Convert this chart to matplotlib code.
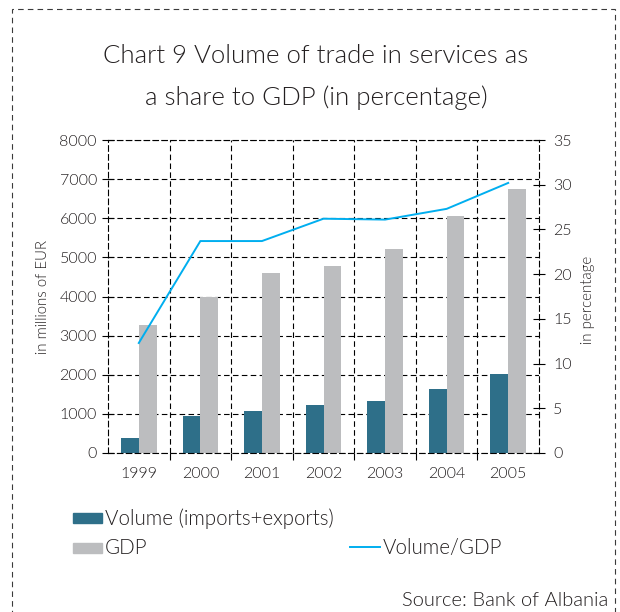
import matplotlib
matplotlib.use("Agg")
import matplotlib.pyplot as plt
from matplotlib.patches import Rectangle
from matplotlib.lines import Line2D
import numpy as np

# Trade in services vs GDP, millions of EUR, and their ratio in percent
years = ["1999", "2000", "2001", "2002", "2003", "2004", "2005"]
volume = [390, 950, 1080, 1230, 1330, 1640, 2020]
gdp = [3270, 4000, 4600, 4790, 5220, 6060, 6750]
share = [12.3, 23.7, 23.7, 26.2, 26.1, 27.3, 30.2]

left_ticks = list(range(0, 8001, 1000))
right_ticks = list(range(0, 36, 5))

series_names = ["Volume (imports+exports)", "GDP", "Volume/GDP"]

plt.rcParams['font.family'] = ['Lato', 'DejaVu Sans']
plt.rcParams['font.weight'] = 300
plt.rcParams['lines.scale_dashes'] = False

TEXT = '#231f20'
DARK = '#2e6f89'
GRAY = '#bcbdbf'
CYAN = '#00aeef'
DASH = (0, (4, 2.4))
W, H = 620, 612

fig = plt.figure(figsize=(W / 100, H / 100), dpi=100)
ax = fig.add_axes([108 / W, 1 - 453 / H, 431 / W, 313 / H])
ax.set_axisbelow(True)

x = np.arange(len(years))
bw = 0.29
ax.bar(x - bw / 2, volume, bw, color=DARK, linewidth=0)
ax.bar(x + bw / 2, gdp, bw, color=GRAY, linewidth=0)

ax.set_xlim(-0.5, len(years) - 0.5)
ax.set_ylim(0, 8000)
ax.set_yticks(left_ticks)
ax.set_xticks(x)
ax.set_xticklabels(years)
ax.set_xticks(x[:-1] + 0.5, minor=True)

ax.grid(axis='y', which='major', color='black', linestyle=DASH, linewidth=0.8)
ax.grid(axis='x', which='minor', color='black', linestyle=DASH, linewidth=0.8)
ax.grid(axis='x', which='major', visible=False)

ax.tick_params(axis='x', which='major', length=0, pad=10, labelsize=11.5, labelcolor=TEXT)
ax.tick_params(axis='x', which='minor', length=5, direction='out', width=0.8)
ax.tick_params(axis='y', direction='inout', length=8, width=0.8, pad=4,
               labelsize=11.5, labelcolor=TEXT)
for s in ax.spines.values():
    s.set_linestyle(DASH)
    s.set_linewidth(0.8)

ax2 = ax.twinx()
ax2.plot(x, share, color=CYAN, linewidth=1.4, solid_joinstyle='miter')
ax2.set_ylim(0, 35)
ax2.set_yticks(right_ticks)
ax2.tick_params(axis='y', direction='inout', length=8, width=0.8, pad=6,
                labelsize=11.5, labelcolor=TEXT)
for s in ax2.spines.values():
    s.set_visible(False)

fig.text(43 / W, 1 - 297 / H, "in millions of EUR", rotation=90, ha='center',
         va='center', fontsize=10.8, color=TEXT)
fig.text(588 / W, 1 - 300 / H, "in percentage", rotation=90, ha='center',
         va='center', fontsize=10.8, color=TEXT)

# Title
fig.text(316 / W, 1 - 63 / H, "Chart 9 Volume of trade in services as",
         ha='center', va='baseline', fontsize=18.5, color=TEXT)
fig.text(316 / W, 1 - 105 / H, "a share to GDP (in percentage)",
         ha='center', va='baseline', fontsize=18.5, color=TEXT)

# Legend
fig.add_artist(Rectangle((73 / W, 1 - 523 / H), 29 / W, 10 / H, color=DARK,
                         transform=fig.transFigure))
fig.text(105 / W, 1 - 519 / H, series_names[0], ha='left', va='center',
         fontsize=14.8, color=TEXT)
fig.add_artist(Rectangle((73 / W, 1 - 553 / H), 29 / W, 10 / H, color=GRAY,
                         transform=fig.transFigure))
fig.text(105 / W, 1 - 548 / H, series_names[1], ha='left', va='center',
         fontsize=14.8, color=TEXT)
fig.add_artist(Line2D([350 / W, 380 / W], [1 - 547 / H, 1 - 547 / H], color=CYAN,
                      linewidth=1.4, transform=fig.transFigure))
fig.text(383 / W, 1 - 548 / H, series_names[2], ha='left', va='center',
         fontsize=14.8, color=TEXT)

fig.text(608 / W, 1 - 600 / H, "Source: Bank of Albania", ha='right', va='center',
         fontsize=14.5, color=TEXT)

# Dashed frame around the figure
fig.add_artist(Rectangle((12 / W, -0.05), 603 / W, 1.05 - 9 / H, fill=False,
                         edgecolor='#3a3a3a', linewidth=0.8, linestyle=(0, (4, 3)),
                         transform=fig.transFigure, clip_on=False))

fig.savefig("out.png", dpi=100)
